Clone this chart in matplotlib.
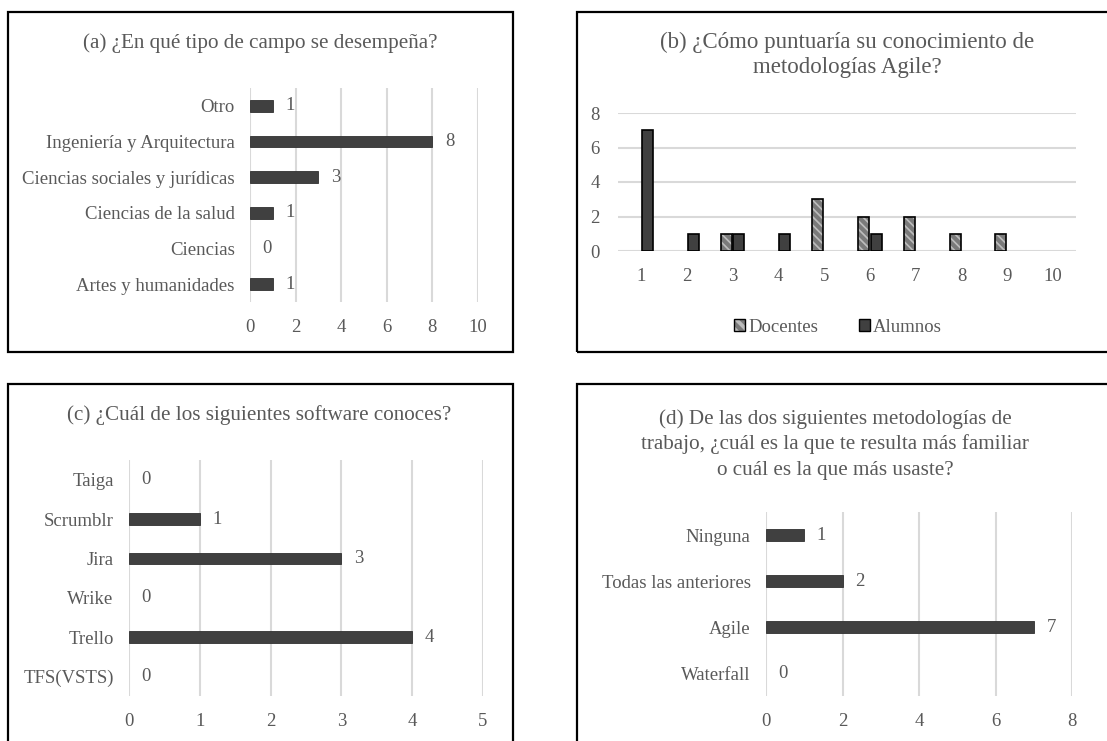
import matplotlib
matplotlib.use("Agg")
import matplotlib.pyplot as plt
from matplotlib.patches import Rectangle
import numpy as np

plt.rcParams['font.family'] = ['Liberation Serif', 'DejaVu Serif']
plt.rcParams['hatch.linewidth'] = 3.0

# (a) field of work
campo_cats = ["Otro", "Ingeniería y Arquitectura", "Ciencias sociales y jurídicas",
              "Ciencias de la salud", "Ciencias", "Artes y humanidades"]
campo_vals = [1, 8, 3, 1, 0, 1]

# (b) self-rated Agile knowledge
puntos = ["1", "2", "3", "4", "5", "6", "7", "8", "9", "10"]
docentes = [0, 0, 1, 0, 3, 2, 2, 1, 1, 0]
alumnos = [7, 1, 1, 1, 0, 1, 0, 0, 0, 0]

# (c) known software
soft_cats = ["Taiga", "Scrumblr", "Jira", "Wrike", "Trello", "TFS(VSTS)"]
soft_vals = [0, 1, 3, 0, 4, 0]

# (d) preferred methodology
metod_cats = ["Ninguna", "Todas las anteriores", "Agile", "Waterfall"]
metod_vals = [1, 2, 7, 0]

W, H = 1107, 741
TXT = "#595959"
GRID = "#d9d9d9"
BAR = "#404040"
DOC_FILL = "#bcbcbc"
DOC_HATCH = "#7a7a7a"
FS = 13.5
TFS = 15.2

fig = plt.figure(figsize=(W / 100, H / 100), dpi=100)


def px_axes(x0, y0, x1, y1):
    return fig.add_axes([x0 / W, 1 - y1 / H, (x1 - x0) / W, (y1 - y0) / H])


def frame(x0, y0, x1, y1):
    fig.patches.append(Rectangle((x0 / W, 1 - y1 / H), (x1 - x0) / W, (y1 - y0) / H,
                                 transform=fig.transFigure, fill=False,
                                 edgecolor="black", linewidth=1.6, zorder=0))


def style(ax):
    for s in ax.spines.values():
        s.set_visible(False)
    ax.tick_params(length=0, colors=TXT, labelsize=FS)
    ax.set_axisbelow(True)


def edge_widths(vals, lw):
    return [lw if v > 0 else 0 for v in vals]


def hbar(ax, cats, vals, xmax, step, height):
    y = np.arange(len(cats))
    ax.barh(y, vals, height=height, color=BAR, edgecolor="#303030",
            linewidth=edge_widths(vals, 0.6))
    ax.set_yticks(y)
    ax.set_yticklabels(cats)
    ax.set_ylim(len(cats) - 0.5, -0.5)
    ax.set_xlim(0, xmax)
    ax.set_xticks(np.arange(0, xmax + step / 2, step))
    ax.grid(axis="x", color=GRID, linewidth=1.5)
    ax.grid(axis="y", visible=False)
    style(ax)
    ax.tick_params(axis="x", pad=12)
    ax.tick_params(axis="y", pad=11)
    for yi, v in zip(y, vals):
        ax.annotate(str(v), (v, yi), xytext=(9, 0), textcoords="offset points",
                    ha="left", va="center", color=TXT, fontsize=FS)


def title_lines(xc, y0, lines, size, gap):
    for i, line in enumerate(lines):
        fig.text(xc / W, 1 - (y0 + gap * i) / H, line,
                 ha="center", va="center", color=TXT, fontsize=size)


# (a)
frame(8, 12, 513, 352)
ax_a = px_axes(250, 88, 478, 302)
hbar(ax_a, campo_cats, campo_vals, 10, 2, 0.32)
title_lines(260, 43, ["(a) ¿En qué tipo de campo se desempeña?"], TFS, 0)

# (b)
frame(577, 12, 1110, 352)
ax_b = px_axes(618, 113, 1076, 251)
x = np.arange(len(puntos))
bw = 0.24
off = 0.14
ax_b.bar(x - off, docentes, width=bw, color=DOC_FILL, edgecolor=DOC_HATCH,
         hatch="\\\\\\\\", linewidth=0)
ax_b.bar(x - off, docentes, width=bw, fill=False, edgecolor="black",
         linewidth=edge_widths(docentes, 1.2))
ax_b.bar(x + off, alumnos, width=bw, color=BAR, edgecolor="black",
         linewidth=edge_widths(alumnos, 1.2))
ax_b.set_xticks(x)
ax_b.set_xticklabels(puntos)
ax_b.set_xlim(-0.5, len(puntos) - 0.5)
ax_b.set_ylim(0, 8)
ax_b.set_yticks([0, 2, 4, 6, 8])
ax_b.grid(axis="y", color=GRID, linewidth=1.5)
style(ax_b)
ax_b.tick_params(axis="x", pad=12)
ax_b.tick_params(axis="y", pad=13)

# legend keys: hatched fill overlaid with a black outline
h_doc_fill = Rectangle((0, 0), 1, 1, facecolor=DOC_FILL, edgecolor=DOC_HATCH,
                       hatch="\\\\\\", linewidth=0)
h_doc_edge = Rectangle((0, 0), 1, 1, fill=False, edgecolor="black", linewidth=1.0)
h_alu = Rectangle((0, 0), 1, 1, facecolor=BAR, edgecolor="black", linewidth=1.0)
fig.legend([(h_doc_fill, h_doc_edge), h_alu], ["Docentes", "Alumnos"], loc="center",
           bbox_to_anchor=(838 / W, 1 - 327 / H), ncol=2, frameon=False,
           handlelength=0.6, handleheight=0.6, handletextpad=0.15,
           columnspacing=2.2, fontsize=FS, labelcolor=TXT)
title_lines(847, 42, ["(b) ¿Cómo puntuaría su conocimiento de",
                      "metodologías Agile?"], 16.5, 26)

# (c)
frame(8, 384, 513, 745)
ax_c = px_axes(129, 460, 483, 696)
hbar(ax_c, soft_cats, soft_vals, 5, 1, 0.28)
title_lines(259, 415, ["(c) ¿Cuál de los siguientes software conoces?"], TFS, 0)

# (d)
frame(577, 384, 1110, 745)
ax_d = px_axes(766, 512, 1072, 696)
hbar(ax_d, metod_cats, metod_vals, 8, 2, 0.28)
title_lines(835, 419, ["(d) De las dos siguientes metodologías de",
                       "trabajo, ¿cuál es la que te resulta más familiar",
                       "o cuál es la que más usaste?"], TFS, 25.5)

fig.savefig("out.png", dpi=100)
